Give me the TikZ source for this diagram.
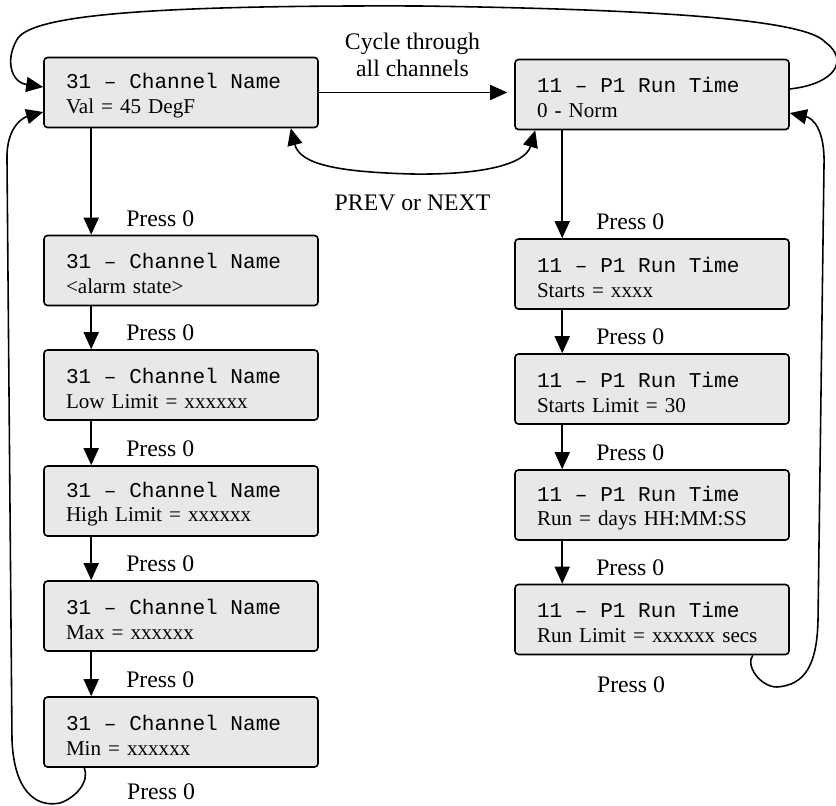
\documentclass[tikz,border=0pt]{standalone}
\usepackage{fontspec}
\setmainfont{Liberation Serif}
\setmonofont{Liberation Mono}
\usepackage{xcolor}
\usepackage{tikz}
\usetikzlibrary{arrows.meta,positioning,calc}
\definecolor{lcdgray}{RGB}{232,232,232}
\newcommand{\lcdtop}[1]{{\ttfamily\spaceskip=0.6em\relax\xspaceskip=0.6em\relax\rule{0pt}{0.43cm}#1}}

\begin{document}
\begin{tikzpicture}[
  lcd/.style={draw,rounded corners=2pt,align=left,fill=lcdgray,line width=0.9pt,
              font=\fontsize{12}{14.2}\selectfont,text width=4.6cm,inner xsep=0.44cm,
              inner ysep=0pt,minimum height=1.4cm},
  lbl/.style={font=\fontsize{13.5}{15.3}\selectfont,align=center,inner sep=0pt},
  arr/.style={-{Triangle[length=0.34cm,width=0.3cm]},line width=0.9pt},
  dbl/.style={{Triangle[length=0.34cm,width=0.3cm]}-{Triangle[length=0.34cm,width=0.3cm]},
              line width=0.9pt}]
\useasboundingbox (0,0) rectangle (16.72,-16.10);
\node[lcd] (val) at (3.62,-1.85) {\lcdtop{31 – Channel Name}\\ Val = 45 DegF};
\node[lcd] (alarm) at (3.62,-5.41) {\lcdtop{31 – Channel Name}\\ <alarm state>};
\node[lcd] (low) at (3.62,-7.70) {\lcdtop{31 – Channel Name}\\ Low Limit = xxxxxx};
\node[lcd] (high) at (3.62,-10.02) {\lcdtop{31 – Channel Name}\\ High Limit = xxxxxx};
\node[lcd] (max) at (3.62,-12.32) {\lcdtop{31 – Channel Name}\\ Max = xxxxxx};
\node[lcd] (min) at (3.62,-14.64) {\lcdtop{31 – Channel Name}\\ Min = xxxxxx};
\node[lcd] (norm) at (13.04,-1.89) {\lcdtop{11 – P1 Run Time}\\ 0 - Norm};
\node[lcd] (starts) at (13.04,-5.48) {\lcdtop{11 – P1 Run Time}\\ Starts = xxxx};
\node[lcd] (slimit) at (13.04,-7.78) {\lcdtop{11 – P1 Run Time}\\ Starts Limit = 30};
\node[lcd] (run) at (13.04,-10.10) {\lcdtop{11 – P1 Run Time}\\ Run = days HH:MM:SS};
\node[lcd] (rlimit) at (13.04,-12.39) {\lcdtop{11 – P1 Run Time}\\ Run Limit = xxxxxx secs};
\node[lbl] (cycle) at (8.25,-1.09) {Cycle through\\ all channels};
\node[lbl,anchor=base] (prevnext) at (8.25,-4.20) {PREV or NEXT};
\node[lbl,anchor=base] (p1) at ([xshift=2.34cm,yshift=0.17cm]alarm.north west) {Press 0};
\node[lbl,anchor=base] (p2) at ([xshift=2.34cm,yshift=0.17cm]low.north west) {Press 0};
\node[lbl,anchor=base] (p3) at ([xshift=2.34cm,yshift=0.17cm]high.north west) {Press 0};
\node[lbl,anchor=base] (p4) at ([xshift=2.34cm,yshift=0.17cm]max.north west) {Press 0};
\node[lbl,anchor=base] (p5) at ([xshift=2.34cm,yshift=0.17cm]min.north west) {Press 0};
\node[lbl,anchor=base] (p6) at (3.22,-15.98) {Press 0};
\node[lbl,anchor=base] (q1) at ([xshift=2.32cm,yshift=0.17cm]starts.north west) {Press 0};
\node[lbl,anchor=base] (q2) at ([xshift=2.32cm,yshift=0.17cm]slimit.north west) {Press 0};
\node[lbl,anchor=base] (q3) at ([xshift=2.32cm,yshift=0.17cm]run.north west) {Press 0};
\node[lbl,anchor=base] (q4) at ([xshift=2.32cm,yshift=0.17cm]rlimit.north west) {Press 0};
\node[lbl,anchor=base] (q5) at (12.62,-13.84) {Press 0};
\draw[arr] ([xshift=0.96cm]val.south west) -- ([xshift=0.96cm]alarm.north west);
\draw[arr] ([xshift=0.96cm]alarm.south west) -- ([xshift=0.96cm]low.north west);
\draw[arr] ([xshift=0.96cm]low.south west) -- ([xshift=0.96cm]high.north west);
\draw[arr] ([xshift=0.96cm]high.south west) -- ([xshift=0.96cm]max.north west);
\draw[arr] ([xshift=0.96cm]max.south west) -- ([xshift=0.96cm]min.north west);
\draw[arr] ([xshift=0.96cm]norm.south west) -- ([xshift=0.96cm]starts.north west);
\draw[arr] ([xshift=0.96cm]starts.south west) -- ([xshift=0.96cm]slimit.north west);
\draw[arr] ([xshift=0.96cm]slimit.south west) -- ([xshift=0.96cm]run.north west);
\draw[arr] ([xshift=0.96cm]run.south west) -- ([xshift=0.96cm]rlimit.north west);
\draw[arr,shorten >=0.14cm] (val.east) -- (val.east -| norm.west);
\draw[dbl] ([xshift=-0.56cm]val.south east) .. controls (6.00,-3.30) and (6.80,-3.44)
  .. (8.24,-3.48) .. controls (9.60,-3.50) and (10.50,-3.30) .. ([xshift=0.42cm]norm.south west);
\draw[arr] ([yshift=0.11cm]norm.east) .. controls (16.70,-1.68) and (17.00,-1.20)
  .. (16.50,-0.84) .. controls (16.20,-0.50) and (14.40,-0.20)
  .. (8.40,-0.12) .. controls (3.00,-0.10) and (0.70,-0.30)
  .. (0.36,-0.76) .. controls (0.10,-1.16) and (0.20,-1.64) .. ([yshift=0.11cm]val.west);
\draw[arr] ([xshift=0.82cm]min.south west) .. controls (1.80,-15.64) and (1.50,-15.96)
  .. (1.20,-16.06) .. controls (0.70,-16.16) and (0.28,-15.80)
  .. (0.24,-14.80) -- (0.14,-3.20) .. controls (0.12,-2.50) and (0.50,-2.34)
  .. ([yshift=-0.39cm]val.west);
\draw[arr] ([xshift=-0.74cm]rlimit.south east) .. controls (14.90,-13.30) and (15.20,-13.74)
  .. (15.54,-13.74) .. controls (16.10,-13.70) and (16.34,-13.30)
  .. (16.36,-12.40) -- (16.48,-3.30) .. controls (16.50,-2.56) and (16.24,-2.36)
  .. ([yshift=-0.37cm]norm.east);
\end{tikzpicture}
\end{document}
